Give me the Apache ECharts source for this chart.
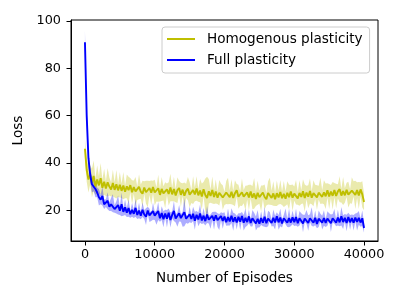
<!DOCTYPE html>
<html><head><meta charset="utf-8">
<script src="https://cdn.jsdelivr.net/npm/echarts@6/dist/echarts.min.js"></script>
<style>html,body{margin:0;padding:0;background:#fff}#c{width:400px;height:300px}</style>
</head><body><div id="c"></div>
<script>
const STEP = 250;
const seriesNames = ['Homogenous plasticity', 'Full plasticity'];
const xTicks = [0, 10000, 20000, 30000, 40000];
const yTicks = [20, 40, 60, 80, 100];

const blueMean = [
 91, 60, 42, 35, 31, 30.5, 29, 27.5, 25.5, 24.5,
 26, 22.5, 23, 24, 21.5, 22.5, 23, 20.5, 21.2, 22.2,
 19.8, 22.5, 19.3, 21.2, 19.0, 20.9, 18.3, 20.2, 18.5, 21.0,
 18.0, 19.9, 17.7, 20.2, 18.2, 17.3, 19.9, 17.8, 17.0, 19.6,
 17.7, 16.9, 19.7, 16.6, 18.8, 16.2, 18.6, 16.4, 18.9, 15.9,
 18.0, 19.7, 16.5, 16.0, 18.7, 16.7, 16.2, 19.2, 16.4, 15.8,
 18.3, 16.3, 18.5, 15.6, 18.1, 16.1, 18.6, 15.7, 17.7, 15.4,
 18.2, 16.0, 15.2, 17.6, 15.6, 17.9, 15.8, 15.0, 17.5, 15.5,
 17.3, 14.9, 17.1, 15.3, 17.7, 15.1, 17.0, 14.8, 17.2, 15.2,
 17.6, 14.7, 16.8, 15.0, 17.4, 14.6, 16.6, 17.1, 14.4, 16.4,
 14.3, 16.7, 14.7, 17.2, 14.5, 16.5, 17.3, 14.6, 16.8, 14.8,
 17.5, 14.9, 16.9, 14.4, 16.6, 17.4, 14.7, 16.7, 14.8, 17.0,
 15.0, 17.1, 14.5, 16.6, 16.9, 14.4, 16.5, 17.2, 14.6, 16.6,
 17.3, 14.7, 16.8, 14.2, 16.4, 17.0, 14.8, 16.7, 14.6, 16.5,
 17.1, 14.5, 16.6, 17.4, 14.7, 16.9, 14.9, 17.5, 15.0, 16.8,
 14.6, 17.1, 14.9, 16.7, 14.7, 16.9, 15.1, 16.8, 14.8, 16.6,
 12.5
];
const blueDev = [
 5, 4, 3.5, 3, 3.5, 2.5, 3.5, 2, 3.5, 2,
 4, 2, 1.6, 3.6, 1.8, 2.8, 3.8, 1.6, 2.6, 4.0,
 1.8, 5.0, 1.6, 3.2, 1.9, 3.6, 1.5, 2.9, 1.8, 3.7,
 1.7, 3.3, 1.5, 3.1, 1.9, 3.5, 1.6, 2.8, 1.5, 3.6,
 1.8, 3.0, 3.8, 1.5, 2.9, 3.4, 1.6, 3.7, 1.8, 3.2,
 1.5, 4.2, 1.7, 3.0, 3.5, 1.6, 3.2, 6.0, 1.8, 1.5,
 3.4, 1.7, 3.0, 3.8, 1.6, 2.9, 3.9, 1.5, 3.2, 1.8,
 3.6, 1.6, 3.0, 1.7, 3.8, 1.5, 2.9, 3.4, 1.6, 3.3,
 1.8, 1.5, 3.6, 1.7, 3.1, 3.8, 1.6, 2.9, 1.5, 3.5,
 1.7, 3.3, 3.9, 1.6, 2.9, 1.5, 3.5, 1.8, 3.0, 3.7,
 1.6, 2.9, 1.5, 4.2, 1.7, 3.3, 1.8, 1.5, 3.5, 2.9,
 1.6, 3.1, 3.7, 1.7, 1.5, 3.3, 1.8, 3.9, 1.6, 2.9,
 1.7, 3.5, 1.5, 3.1, 1.8, 3.7, 1.6, 2.9, 3.3, 1.7,
 4.0, 1.6, 3.1, 1.8, 3.5, 1.5, 2.9, 3.3, 1.7, 3.1,
 1.6, 3.7, 1.8, 3.1, 1.5, 3.3, 1.7, 3.9, 2.9, 1.6,
 3.5, 1.8, 3.1, 1.5, 3.3, 1.7, 3.7, 2.9, 1.8, 3.3,
 2.0
];
const yellowMean = [
 46, 37, 33, 35, 31.5, 34.5, 30, 33, 30.5, 33.5,
 29.5, 32, 29.2, 31.8, 30.0, 28.8, 31.5, 28.6, 31.0, 28.4,
 30.8, 28.2, 30.4, 27.8, 30.1, 28.5, 30.6, 27.6, 29.8, 28.0,
 27.2, 29.9, 27.9, 27.0, 29.6, 27.6, 26.9, 29.4, 27.4, 29.8,
 27.5, 26.7, 29.3, 26.5, 29.0, 27.1, 26.3, 28.8, 26.9, 29.6,
 26.7, 29.0, 26.2, 28.5, 29.4, 26.5, 28.7, 26.1, 28.2, 29.1,
 26.6, 25.9, 28.5, 26.7, 29.2, 26.3, 28.3, 25.8, 28.9, 26.4,
 25.2, 28.0, 26.0, 28.6, 25.6, 27.9, 25.3, 27.4, 28.2, 25.4,
 25.0, 27.5, 28.1, 25.5, 27.8, 25.2, 27.2, 28.4, 25.7, 24.9,
 27.6, 25.8, 25.1, 27.5, 25.4, 27.9, 25.3, 27.1, 24.8, 27.4,
 25.5, 25.0, 27.5, 25.6, 24.7, 27.3, 28.0, 25.2, 27.1, 24.6,
 27.2, 25.4, 27.7, 25.1, 26.9, 24.9, 27.4, 25.5, 27.9, 25.3,
 27.0, 27.6, 25.0, 27.3, 25.6, 28.0, 25.2, 27.5, 25.7, 28.1,
 25.3, 27.2, 27.8, 25.4, 27.4, 28.2, 25.7, 27.6, 25.9, 28.4,
 25.8, 27.9, 26.1, 28.5, 26.0, 28.0, 28.9, 26.2, 28.1, 26.3,
 28.6, 26.6, 26.0, 28.3, 29.0, 26.5, 28.5, 26.2, 28.8, 26.7,
 23.5
];
const yellowDev = [
 4, 5, 5.5, 4, 6, 6.5, 3.5, 6, 4, 6.5,
 3.5, 5.5, 3.2, 6.0, 3.8, 3.0, 5.6, 3.2, 6.0, 2.8,
 5.4, 3.0, 5.8, 2.7, 5.0, 5.7, 3.0, 5.1, 2.8, 6.0,
 2.9, 5.3, 3.0, 5.5, 2.6, 4.9, 5.6, 3.0, 5.2, 2.7,
 5.4, 3.0, 5.7, 2.8, 5.1, 3.0, 5.5, 2.5, 4.9, 5.8,
 2.9, 5.2, 2.8, 5.4, 3.0, 5.1, 2.7, 5.6, 3.0, 4.9,
 5.3, 2.8, 5.9, 2.9, 5.2, 2.7, 4.9, 5.5, 3.0, 7.0,
 9.0, 5.2, 2.8, 5.7, 3.0, 5.1, 2.7, 5.4, 3.0, 5.2,
 2.8, 4.9, 5.6, 2.9, 5.3, 3.0, 5.5, 2.7, 5.1, 3.0,
 5.8, 2.8, 5.2, 3.0, 5.4, 2.9, 4.9, 6.5, 3.0, 5.1,
 2.8, 5.5, 3.0, 5.3, 2.7, 4.9, 5.7, 3.0, 5.2, 2.8,
 5.4, 3.0, 5.1, 2.9, 5.5, 3.0, 4.9, 5.3, 2.8, 5.6,
 3.0, 5.2, 2.7, 5.4, 3.0, 5.1, 5.7, 2.9, 4.9, 5.3,
 2.8, 5.5, 3.0, 5.2, 3.0, 5.6, 2.9, 5.1, 5.4, 3.0,
 5.3, 2.8, 5.8, 3.0, 5.2, 3.0, 5.5, 2.9, 5.9, 3.1,
 3.0, 5.4, 3.0, 5.6, 3.2, 6.0, 3.3, 5.7, 3.0, 5.5,
 3.5
];

const episodes = blueMean.map((_, i) => i * STEP);
const FONT = 'DejaVu Sans';

function bandSeries(mean, dev, color) {
  const upper = mean.map((m, i) => m + dev[i]);
  const lower = mean.map((m, i) => m - dev[i]);
  return {
    type: 'custom', silent: true, clip: true,
    data: [[episodes[0], mean[0]]],
    encode: { x: 0, y: 1 },
    renderItem: function (params, api) {
      const pts = [];
      for (let i = 0; i < episodes.length; i++) pts.push(api.coord([episodes[i], upper[i]]));
      for (let i = episodes.length - 1; i >= 0; i--) pts.push(api.coord([episodes[i], lower[i]]));
      return { type: 'polygon', shape: { points: pts }, style: { fill: color, stroke: null } };
    }
  };
}
function lineSeries(name, mean, color) {
  return {
    type: 'line', name: name, showSymbol: false, silent: true, clip: true,
    data: episodes.map((x, i) => [x, mean[i]]),
    lineStyle: { color: color, width: 1.9 },
    itemStyle: { color: color }
  };
}

const chart = echarts.init(document.getElementById('c'), null, { renderer: 'canvas' });
chart.setOption({
  animation: false,
  backgroundColor: '#fff',
  textStyle: { fontFamily: FONT },
  grid: { left: 71, right: 22, top: 20, bottom: 59, show: true, borderColor: '#000', borderWidth: 1, backgroundColor: 'transparent' },
  legend: {
    data: seriesNames.map(n => ({ name: n, icon: 'rect' })),
    orient: 'vertical', left: 162, top: 27,
    itemWidth: 28, itemHeight: 2, itemGap: 7,
    padding: [5, 7, 6, 5],
    backgroundColor: 'rgba(255,255,255,0.8)', borderColor: '#cccccc', borderWidth: 1, borderRadius: 3,
    textStyle: { fontFamily: FONT, fontSize: 13.6, color: '#000', lineHeight: 14, padding: [0, 0, 0, 7] }
  },
  xAxis: {
    type: 'value', min: -2000, max: 42000,
    name: 'Number of Episodes', nameLocation: 'middle', nameGap: 30,
    nameTextStyle: { fontFamily: FONT, fontSize: 13.6, color: '#000' },
    axisLine: { show: true, onZero: false, lineStyle: { color: '#000', width: 1 } },
    axisTick: { show: true, length: 4.5, lineStyle: { color: '#000' }, customValues: xTicks },
    axisLabel: { fontFamily: FONT, fontSize: 12.8, color: '#000', margin: 7, customValues: xTicks, formatter: v => String(v) },
    splitLine: { show: false }
  },
  yAxis: {
    type: 'value', min: 7.0, max: 100.4,
    name: 'Loss', nameLocation: 'middle', nameGap: 43,
    nameTextStyle: { fontFamily: FONT, fontSize: 13.6, color: '#000' },
    axisLine: { show: true, onZero: false, lineStyle: { color: '#000', width: 1 } },
    axisTick: { show: true, length: 4.5, lineStyle: { color: '#000' }, customValues: yTicks },
    axisLabel: { fontFamily: FONT, fontSize: 12.8, color: '#000', margin: 10, customValues: yTicks, formatter: v => String(v) },
    splitLine: { show: false }
  },
  series: [
    bandSeries(yellowMean, yellowDev, 'rgba(191,191,0,0.32)'),
    lineSeries(seriesNames[0], yellowMean, '#bfbf00'),
    bandSeries(blueMean, blueDev, 'rgba(0,0,255,0.32)'),
    lineSeries(seriesNames[1], blueMean, '#0000ff')
  ]
});
</script>
</body></html>
